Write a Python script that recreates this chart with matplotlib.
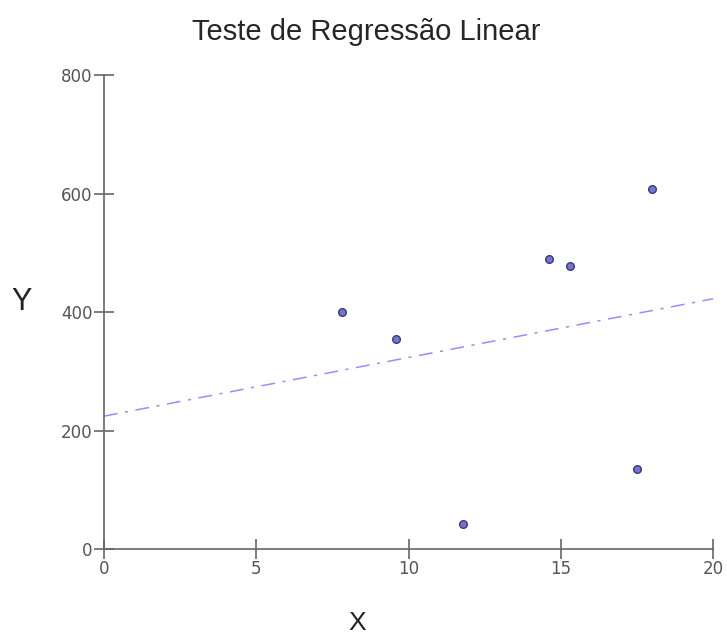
import numpy as np
import matplotlib
matplotlib.use("Agg")
import matplotlib.pyplot as plt

# =====================
# Data
# =====================

x_vals = [7.8, 9.6, 11.8, 14.6, 15.3, 17.5, 18.0]
y_vals = [400, 355, 42, 490, 478, 135, 608]

x_ticks = [0, 5, 10, 15, 20]
y_ticks = [0, 200, 400, 600, 800]

# regression line from the points
slope, intercept = np.polyfit(x_vals, y_vals, 1)
line_x = np.array([0, 20])
line_y = slope * line_x + intercept

# =====================
# Plot
# =====================

plt.rcParams["font.family"] = ["Liberation Sans", "DejaVu Sans"]

fig = plt.figure(figsize=(7.27, 6.35), dpi=100)
ax = fig.add_axes([0.143, 0.135, 0.838, 0.747])

ax.plot(line_x, line_y, color="#9090ff", linewidth=1.1,
        linestyle=(0, (9, 5, 2, 5)))
ax.plot(x_vals, y_vals, linestyle="none", marker="o", markersize=5.5,
        markerfacecolor="#7474d6", markeredgecolor="#3a3a70", markeredgewidth=1.0)

ax.set_xlim(0, 20)
ax.set_ylim(0, 800)
ax.set_xticks(x_ticks)
ax.set_yticks(y_ticks)

for side in ["top", "right"]:
    ax.spines[side].set_visible(False)
for side in ["left", "bottom"]:
    ax.spines[side].set_color("#666666")
    ax.spines[side].set_linewidth(1.2)

ax.tick_params(direction="inout", length=14, width=1.2, color="#666666",
               labelcolor="#555555", labelsize=12, pad=1)
for lbl in ax.get_xticklabels() + ax.get_yticklabels():
    lbl.set_fontfamily("DejaVu Sans")

fig.text(366 / 727, 1 - 40 / 635, "Teste de Regressão Linear", fontsize=21,
         color="#262626", ha="center", va="baseline")
fig.text(357 / 727, 1 - 630 / 635, "X", fontsize=19, color="#222222",
         ha="center", va="baseline")
fig.text(22 / 727, 1 - 302 / 635, "Y", fontsize=22, color="#222222",
         ha="center", va="center")

plt.savefig("out.png", dpi=100)
plt.close()
